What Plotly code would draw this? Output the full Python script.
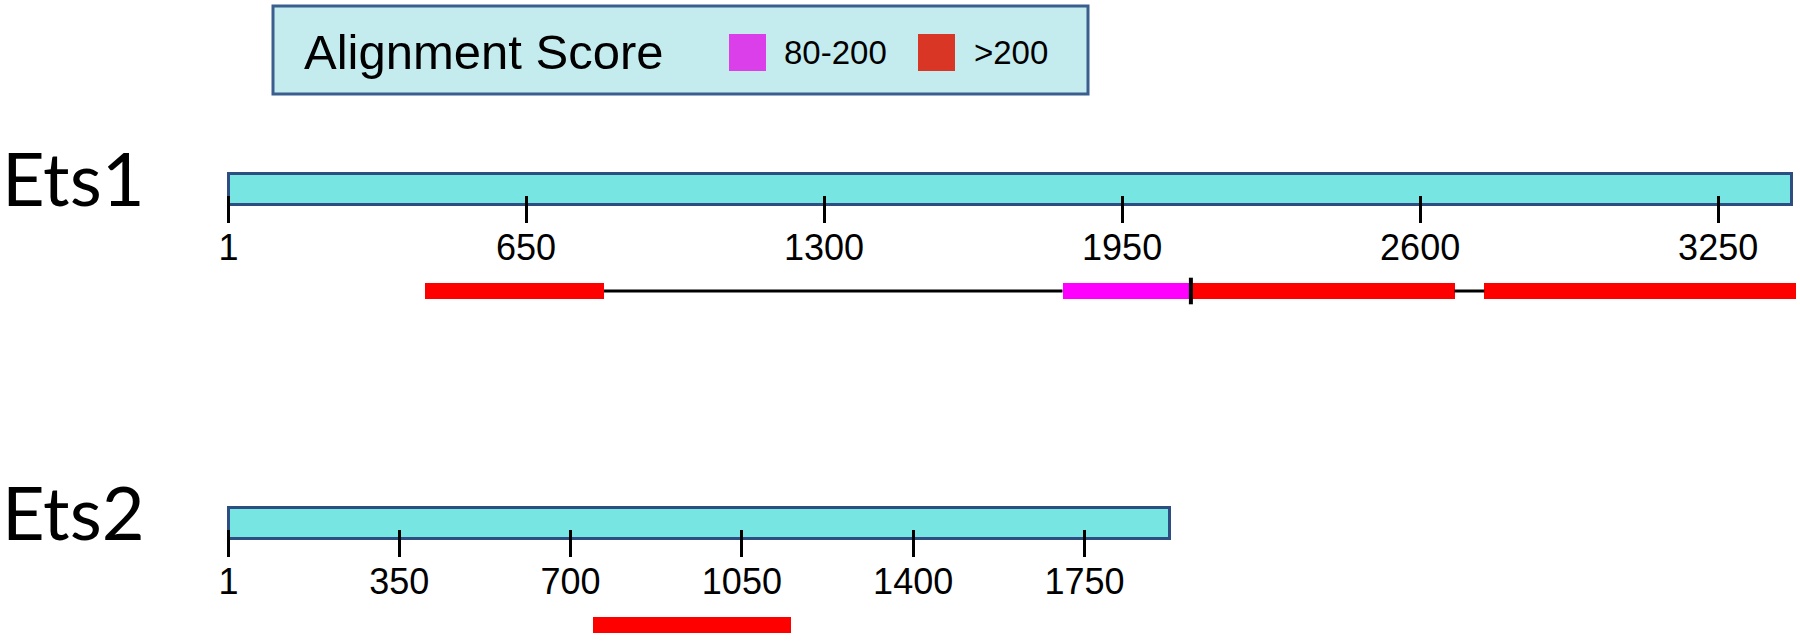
import plotly.graph_objects as go

# ---------------- data ----------------
genes = ["Ets1", "Ets2"]
gene_lengths = [3410, 1925]
ets1_ticks = [1, 650, 1300, 1950, 2600, 3250]
ets2_ticks = [1, 350, 700, 1050, 1400, 1750]
ets1_seg_start = [430, 1820, 2100, 2740]
ets1_seg_end = [820, 2100, 2675, 3420]
ets1_seg_score = [">200", "80-200", ">200", ">200"]
ets2_seg_start = [745]
ets2_seg_end = [1150]
ets2_seg_score = [">200"]
score_bins = ["80-200", ">200"]
legend_title = "Alignment Score"

# ---------------- layout constants ----------------
W, H = 1800, 642
ORIGIN_PX = 228.5                 # pixel of position 1
PX_PER_UNIT = [0.4585, 0.4894]
BAR_Y = [189.5, 523.5]
BAR_H = 31
AXIS_Y = [195, 529]
SEG_Y = [291, 625]
SEG_H = 16
LABEL_Y = [177, 511]

CYAN = "#77E6E3"
NAVY = "#2E4D80"
SEG_COLORS = {"80-200": "#FF00FF", ">200": "#FF0000"}
SWATCH_COLORS = {"80-200": "#DB3FEA", ">200": "#DA3626"}
TICK_FONT = dict(family="Liberation Sans, Arial", size=36, color="black")

rows = [
    dict(ticks=ets1_ticks, s=ets1_seg_start, e=ets1_seg_end, sc=ets1_seg_score),
    dict(ticks=ets2_ticks, s=ets2_seg_start, e=ets2_seg_end, sc=ets2_seg_score),
]

fig = go.Figure()
for i, (gene, length, row) in enumerate(zip(genes, gene_lengths, rows)):
    xa = "x" if i == 0 else "x2"
    # gene bar
    fig.add_trace(go.Bar(orientation="h", y=[BAR_Y[i]], x=[length - 1], base=[1],
                         width=BAR_H, marker=dict(color=CYAN, line=dict(color=NAVY, width=3)),
                         xaxis=xa, yaxis="y", showlegend=False, hoverinfo="skip"))
    # connectors in gaps
    cx, cy = [], []
    jx = []
    for k in range(len(row["s"]) - 1):
        if row["s"][k + 1] > row["e"][k]:
            cx += [row["e"][k], row["s"][k + 1], None]
            cy += [SEG_Y[i], SEG_Y[i], None]
        elif row["s"][k + 1] == row["e"][k]:
            jx.append(row["e"][k])
    if cx:
        fig.add_trace(go.Scatter(x=cx, y=cy, mode="lines", line=dict(color="black", width=3),
                                 xaxis=xa, yaxis="y", showlegend=False, hoverinfo="skip"))
    # segments
    fig.add_trace(go.Bar(orientation="h", y=[SEG_Y[i]] * len(row["s"]),
                         x=[e - s for s, e in zip(row["s"], row["e"])], base=row["s"],
                         width=SEG_H, marker=dict(color=[SEG_COLORS[c] for c in row["sc"]], line=dict(width=0)),
                         xaxis=xa, yaxis="y", showlegend=False, hoverinfo="skip"))
    if jx:
        fig.add_trace(go.Scatter(x=jx, y=[SEG_Y[i]] * len(jx), mode="markers",
                                 marker=dict(symbol="line-ns", size=19, line=dict(color="black", width=4)),
                                 xaxis=xa, yaxis="y", showlegend=False, hoverinfo="skip"))
    # gene label
    fig.add_annotation(text=gene, xref="paper", yref="y", x=0, y=LABEL_Y[i], xanchor="left",
                       yanchor="middle", showarrow=False,
                       font=dict(family="Lato, Open Sans", size=74, color="black"))


def xaxis_cfg(i):
    pxu = PX_PER_UNIT[i]
    r0 = 1 - ORIGIN_PX / pxu
    r1 = r0 + W / pxu
    ticks = rows[i]["ticks"]
    return dict(range=[r0, r1], domain=[0, 1], anchor="free", position=1 - AXIS_Y[i] / H,
                showgrid=False, zeroline=False, showline=False, ticks="outside", ticklen=27,
                tickwidth=3, tickcolor="black", tickvals=ticks, ticktext=[str(t) for t in ticks],
                tickfont=TICK_FONT, ticklabelstandoff=-6, fixedrange=True)


xa2 = xaxis_cfg(1)
xa2["overlaying"] = "x"


def px(x):
    return x / W


# legend box (drawn as layout shapes + text)
shapes = [dict(type="rect", xref="paper", yref="y", x0=px(273), x1=px(1088), y0=6, y1=94,
               fillcolor="#C4ECEF", line=dict(color="#3A5E8E", width=3), layer="above")]
annotations = [dict(text=legend_title, xref="paper", yref="y", x=px(302), y=52, xanchor="left",
                    yanchor="middle", showarrow=False,
                    font=dict(family="Liberation Sans, Arial", size=49, color="black"))]
sw_x = [729, 918]
txt_x = [782, 972]
for k, b in enumerate(score_bins):
    shapes.append(dict(type="rect", xref="paper", yref="y", x0=px(sw_x[k]), x1=px(sw_x[k] + 37),
                       y0=34, y1=71, fillcolor=SWATCH_COLORS[b], line=dict(width=0), layer="above"))
    annotations.append(dict(text=b, xref="paper", yref="y", x=px(txt_x[k]), y=52, xanchor="left",
                            yanchor="middle", showarrow=False,
                            font=dict(family="Liberation Sans, Arial", size=33, color="black")))

for a in annotations:
    fig.add_annotation(**a)

fig.update_layout(
    width=W, height=H, margin=dict(l=0, r=0, t=0, b=0),
    paper_bgcolor="white", plot_bgcolor="white", barmode="overlay", bargap=0,
    xaxis=xaxis_cfg(0), xaxis2=xa2,
    yaxis=dict(range=[H, 0], domain=[0, 1], visible=False, fixedrange=True),
    shapes=shapes, showlegend=False,
)

fig.write_html("out.html", config={"displayModeBar": False},
               post_script="document.body.style.margin='0';document.body.style.overflow='hidden';")
